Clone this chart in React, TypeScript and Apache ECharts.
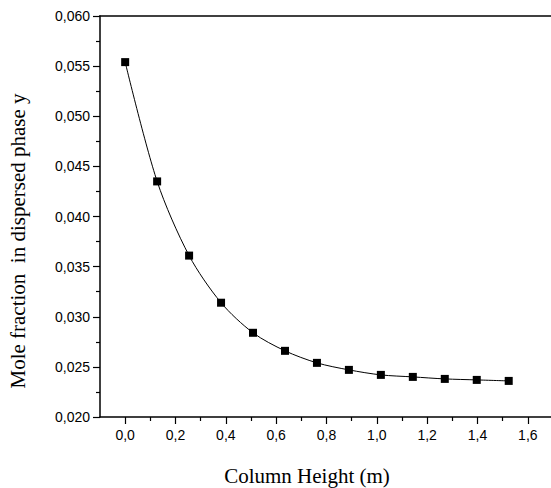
import React, { useEffect, useRef } from "react";
import * as echarts from "echarts";

const heights = [0, 0.127, 0.254, 0.381, 0.508, 0.635, 0.762, 0.889, 1.016, 1.143, 1.27, 1.397, 1.524];
const moleFractions = [0.0554, 0.0435, 0.0361, 0.0314, 0.0284, 0.0266, 0.0254, 0.0247, 0.0242, 0.024, 0.0238, 0.0237, 0.0236];
const xMajorTicks = [0, 0.2, 0.4, 0.6, 0.8, 1.0, 1.2, 1.4, 1.6];
const xMinorTicks = [0.1, 0.3, 0.5, 0.7, 0.9, 1.1, 1.3, 1.5];
const xTitle = "Column Height (m)";
const yTitle = "Mole fraction  in dispersed phase y";

const SANS = "Liberation Sans, Arial, sans-serif";
const SERIF = "Liberation Serif, Times New Roman, serif";

export default function App() {
  const ref = useRef<HTMLDivElement>(null);
  useEffect(() => {
    if (!ref.current) return;
    const chart = echarts.init(ref.current, undefined, { renderer: "svg" });
    const fmt = (v: number) => v.toFixed(1).replace(".", ",");
    const baseX = {
      type: "value" as const,
      min: -0.1,
      max: 1.692,
      splitLine: { show: false },
    };
    chart.setOption({
      animation: false,
      backgroundColor: "#ffffff",
      grid: { left: 100, top: 16, right: 0, bottom: 71, show: false, containLabel: false },
      xAxis: [
        {
          ...baseX,
          position: "bottom",
          axisLine: { show: true, onZero: false, lineStyle: { color: "#000", width: 1.5 } },
          axisTick: { show: true, inside: false, length: 7, customValues: xMajorTicks, lineStyle: { color: "#000", width: 1.2 } },
          axisLabel: {
            show: true,
            customValues: xMajorTicks,
            formatter: (v: number) => fmt(v),
            color: "#000",
            fontFamily: SANS,
            fontSize: 14,
            margin: 11,
          },
        },
        {
          ...baseX,
          position: "bottom",
          axisLine: { show: false },
          axisTick: { show: true, inside: false, length: 4, customValues: xMinorTicks, lineStyle: { color: "#000", width: 1.2 } },
          axisLabel: { show: false },
        },
      ],
      yAxis: {
        type: "value",
        min: 0.02,
        max: 0.06,
        interval: 0.005,
        splitLine: { show: false },
        axisLine: { show: true, onZero: false, lineStyle: { color: "#000", width: 1.5 } },
        axisTick: { show: true, inside: false, length: 7, lineStyle: { color: "#000", width: 1.2 } },
        minorTick: { show: true, splitNumber: 2, length: 4, lineStyle: { color: "#000", width: 1.2 } },
        axisLabel: {
          formatter: (v: number) => v.toFixed(3).replace(".", ","),
          color: "#000",
          fontFamily: SANS,
          fontSize: 14,
          margin: 10,
        },
      },
      series: [
        {
          type: "line",
          xAxisIndex: 0,
          data: heights.map((h, i) => [h, moleFractions[i]]),
          smooth: 0.3,
          symbol: "rect",
          symbolSize: 8,
          lineStyle: { color: "#000", width: 1 },
          itemStyle: { color: "#000" },
        },
      ],
      graphic: [
        {
          type: "line",
          shape: { x1: 99.25, y1: 16, x2: 560, y2: 16 },
          style: { stroke: "#000", lineWidth: 1.5 },
        },
        {
          type: "text",
          x: 307,
          y: 476,
          style: {
            text: xTitle,
            fill: "#000",
            font: `21px ${SERIF}`,
            align: "center",
            verticalAlign: "middle",
          },
        },
        {
          type: "text",
          x: 18,
          y: 241,
          rotation: Math.PI / 2,
          style: {
            text: yTitle,
            fill: "#000",
            font: `21px ${SERIF}`,
            align: "center",
            verticalAlign: "middle",
          },
        },
      ],
    });
    return () => chart.dispose();
  }, []);
  return (
    <div ref={ref} style={{ position: "fixed", left: 0, top: 0, width: 551, height: 488, background: "#fff" }} />
  );
}
